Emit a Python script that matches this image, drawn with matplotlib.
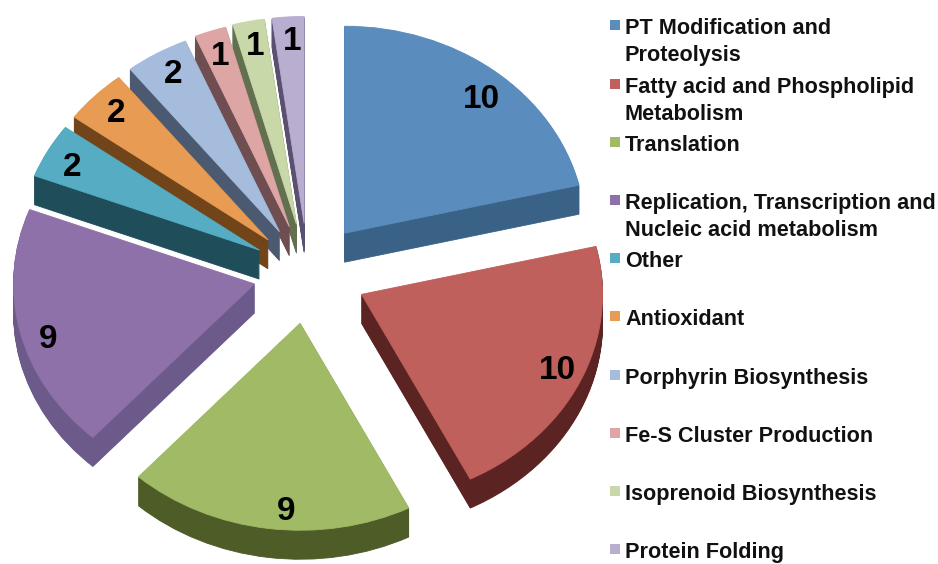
import matplotlib
matplotlib.use("Agg")
import matplotlib.pyplot as plt

plt.rcParams['font.family'] = ['Liberation Sans', 'DejaVu Sans']

categories = ["PT Modification and\nProteolysis",
              "Fatty acid and Phospholipid\nMetabolism",
              "Translation",
              "Replication, Transcription and\nNucleic acid metabolism",
              "Other",
              "Antioxidant",
              "Porphyrin Biosynthesis",
              "Fe-S Cluster Production",
              "Isoprenoid Biosynthesis",
              "Protein Folding"]
values = [10, 10, 9, 9, 2, 2, 2, 1, 1, 1]
top_colors = ["#5B8CBE", "#BF605C", "#A0BA66", "#8D71A8", "#55ACC3",
              "#E89C53", "#A6BCDC", "#DDA6A5", "#C8D8A8", "#BAAED0"]
side_colors = ["#3A6186", "#5B2321", "#4E5C28", "#6C5A8A", "#1F4E5A",
               "#71441A", "#4B5A70", "#6F4E52", "#63704F", "#5A5070"]
explode = [0.245, 0.245, 0.245, 0.228, 0.23, 0.23, 0.232, 0.236, 0.24, 0.24]
# pixel nudges for the numbers, the original labels are not quite on one radius
nudge = [(5, 9), (4, -1), (14, 8), (0, 13), (-1, 5), (0, 0), (2, 0), (0, 2), (1, 1), (2, 0)]
legend_y = [28, 87, 145, 203, 261, 319, 378, 436, 494, 552]

W, H = 938, 564
rx, ry = 241.0, 207.0
cx, cy = 308.0, 273.0
depth = 29

fig = plt.figure(figsize=(W / 100, H / 100), dpi=100)
ax = fig.add_axes([0, 0, 1, 1])


def draw_pie(offset, colors, z, show_numbers):
    pct = None
    if show_numbers:
        pct = lambda p: "%d" % round(p * sum(values) / 100)
    res = ax.pie(values, explode=explode, colors=colors, startangle=90,
                 counterclock=False, center=(cx / rx, (H - cy - offset) / ry),
                 autopct=pct, pctdistance=0.88,
                 textprops={"fontsize": 24, "fontweight": "bold", "color": "black"},
                 wedgeprops={"linewidth": 0.6})
    for i, w in enumerate(res[0]):
        w.set_edgecolor(colors[i])
        w.set_zorder(20 - 2 * i + z)
    if show_numbers:
        for t, (nx, ny) in zip(res[2], nudge):
            x, y = t.get_position()
            t.set_position((x + nx / rx, y - ny / ry))
            t.set_zorder(40)


# side walls are just the same pie stacked downwards
for d in range(depth, 0, -1):
    draw_pie(d, side_colors, 0, False)
draw_pie(0, top_colors, 1, True)

ax.set_aspect("auto")
ax.set_xlim(0, W / rx)
ax.set_ylim(0, H / ry)
ax.axis("off")

leg = fig.add_axes([0, 0, 1, 1])
leg.set_xlim(0, W)
leg.set_ylim(H, 0)
leg.axis("off")
for name, col, y in zip(categories, top_colors, legend_y):
    leg.scatter([615], [y - 3], marker="s", s=56, color=col, linewidths=0)
    leg.text(625, y - 10, name, fontsize=15.6, fontweight="bold", color="#111111",
             va="top", ha="left", linespacing=1.4)

fig.savefig("out.png", dpi=100)
